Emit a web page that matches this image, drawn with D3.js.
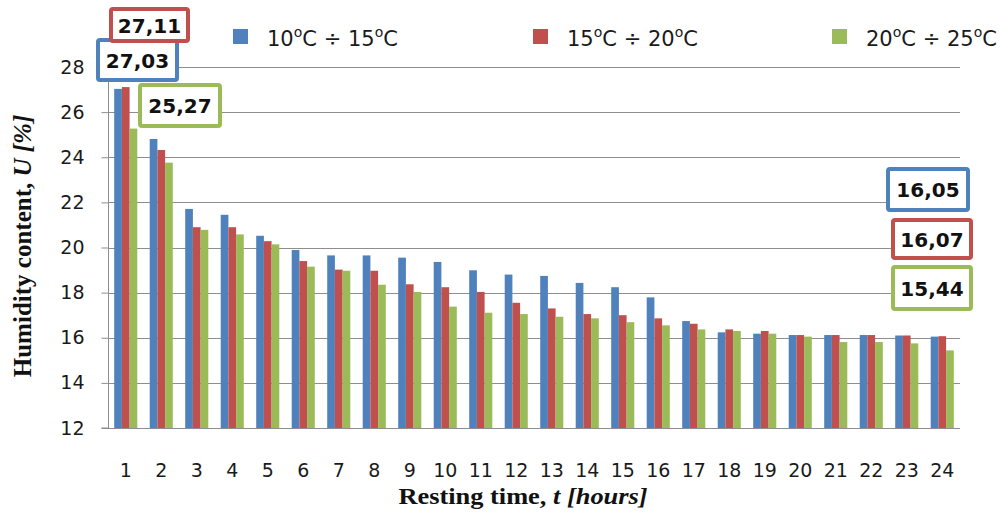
<!DOCTYPE html>
<html>
<head>
<meta charset="utf-8">
<script src="https://cdn.jsdelivr.net/npm/d3@7"></script>
<style>
  html, body { margin: 0; padding: 0; background: #fff; }
  svg { display: block; }
</style>
</head>
<body>
<svg id="chart" width="1003" height="513"></svg>
<script>
const hours = ["1","2","3","4","5","6","7","8","9","10","11","12","13","14","15","16","17","18","19","20","21","22","23","24"];
const seriesNames = ["10\u00B0C \u00F7 15\u00B0C", "15\u00B0C \u00F7 20\u00B0C", "20\u00B0C \u00F7 25\u00B0C"];
const blueValues  = [27.03, 24.81, 21.71, 21.45, 20.52, 19.89, 19.65, 19.65, 19.55, 19.36, 18.99, 18.80, 18.74, 18.43, 18.24, 17.79, 16.74, 16.24, 16.18, 16.12, 16.12, 16.12, 16.10, 16.05];
const redValues   = [27.11, 24.32, 20.90, 20.90, 20.28, 19.40, 19.02, 18.97, 18.37, 18.24, 18.03, 17.55, 17.30, 17.05, 17.00, 16.86, 16.62, 16.37, 16.30, 16.12, 16.12, 16.12, 16.10, 16.07];
const greenValues = [25.27, 23.76, 20.78, 20.58, 20.14, 19.15, 18.97, 18.35, 18.03, 17.38, 17.11, 17.05, 16.93, 16.86, 16.69, 16.55, 16.37, 16.30, 16.18, 16.05, 15.81, 15.81, 15.75, 15.44];
const yTicks = [12, 14, 16, 18, 20, 22, 24, 26, 28];
const calloutTexts = ["27,03", "27,11", "25,27", "16,05", "16,07", "15,44"];

const colors = ["#4F81BD", "#C0504D", "#9BBB59"];
const series = [blueValues, redValues, greenValues];

const svg = d3.select("#chart");
const plotLeft = 108, plotRight = 960, plotTop = 67, plotBottom = 428;

const x = d3.scaleBand().domain(hours).range([plotLeft, plotRight]).paddingInner(0.35).paddingOuter(0.175);
const xs = d3.scaleBand().domain([0,1,2]).range([0, x.bandwidth()]);
const y = d3.scaleLinear().domain([12, 28]).range([plotBottom, plotTop]);
const xc = h => x(h) + x.bandwidth() / 2;

const gridColor = "#8e8e8e";

// gridlines
svg.append("g").selectAll("line").data(yTicks.filter(t => t > 12)).join("line")
  .attr("x1", plotLeft).attr("x2", plotRight)
  .attr("y1", d => Math.round(y(d)) + 0.5).attr("y2", d => Math.round(y(d)) + 0.5)
  .attr("stroke", gridColor).attr("stroke-width", 1);

// bars
const gBars = svg.append("g");
series.forEach((vals, si) => {
  gBars.append("g").selectAll("rect").data(vals).join("rect")
    .attr("x", (d, i) => x(hours[i]) + xs(si))
    .attr("width", xs.bandwidth())
    .attr("y", d => y(d))
    .attr("height", d => y(12) - y(d))
    .attr("fill", colors[si]);
});

// y axis
const yAxis = d3.axisLeft(y).tickValues(yTicks).tickSize(7).tickFormat(d3.format("d"));
const gy = svg.append("g").attr("transform", `translate(${plotLeft + 0.5},0)`).call(yAxis);
gy.select(".domain").attr("stroke", gridColor).attr("d", `M-7,${y(28)}H0V${plotBottom}H-7`);
gy.selectAll(".tick line").attr("stroke", gridColor);
gy.selectAll(".tick text").attr("x", -24).attr("font-family", "DejaVu Sans").attr("font-size", 19).attr("fill", "#1a1a1a");

// x axis
const xAxis = d3.axisBottom(x).tickSize(0).tickPadding(0);
const gx = svg.append("g").attr("transform", `translate(0,${plotBottom + 0.5})`).call(xAxis);
gx.select(".domain").attr("stroke", gridColor).attr("d", `M${plotLeft},0H${plotRight}`);
gx.selectAll(".tick text").attr("y", 0).attr("dy", 0).attr("transform", "translate(0,48)")
  .attr("font-family", "DejaVu Sans").attr("font-size", 19).attr("fill", "#1a1a1a");

// axis titles
const yTitle = svg.append("text")
  .attr("transform", "translate(31,246) rotate(-90)")
  .attr("text-anchor", "middle")
  .attr("font-family", "Liberation Serif, Times New Roman, serif")
  .attr("font-weight", "bold").attr("font-size", 25).attr("fill", "#111");
yTitle.append("tspan").text("Humidity content, ");
yTitle.append("tspan").attr("font-style", "italic").text("U [%]");

const xTitle = svg.append("text")
  .attr("transform", "translate(523,504) scale(1.1,1)")
  .attr("text-anchor", "middle")
  .attr("font-family", "Liberation Serif, Times New Roman, serif")
  .attr("font-weight", "bold").attr("font-size", 24).attr("fill", "#111");
xTitle.append("tspan").text("Resting time, ");
xTitle.append("tspan").attr("font-style", "italic").text("t [hours]");

// legend
const legendX = [233, 533, 832];
const legendTemps = [["10","15"],["15","20"],["20","25"]];
legendTemps.forEach((tp, i) => {
  svg.append("rect").attr("x", legendX[i]).attr("y", 29).attr("width", 15).attr("height", 15).attr("fill", colors[i]);
  const t = svg.append("text").attr("x", legendX[i] + 34).attr("y", 46)
    .attr("font-family", "DejaVu Sans").attr("font-size", 21).attr("fill", "#1a1a1a")
    .attr("aria-label", seriesNames[i]);
  t.append("tspan").text(tp[0]);
  t.append("tspan").attr("font-size", 14).attr("dy", -9).text("o");
  t.append("tspan").attr("dy", 9).text("C \u00F7 " + tp[1]);
  t.append("tspan").attr("font-size", 14).attr("dy", -9).text("o");
  t.append("tspan").attr("dy", 9).text("C");
});

// callout boxes (data labels for first and last hour)
const callouts = [
  { s: 0, i: 0,  dx: 11.75,  cy: 60,    w: 79, h: 40 },
  { s: 2, i: 1,  dx: 18.75,  cy: 105.5, w: 80, h: 41 },
  { s: 1, i: 0,  dx: 23.75,  cy: 25,    w: 77, h: 32 },
  { s: 0, i: 23, dx: -14.25, cy: 189.5, w: 80, h: 41 },
  { s: 1, i: 23, dx: -10.25, cy: 239,   w: 78, h: 38 },
  { s: 2, i: 23, dx: -10.25, cy: 288,   w: 78, h: 42 }
];
callouts.forEach((c, k) => {
  const cx = xc(hours[c.i]) + c.dx;
  const g = svg.append("g");
  g.append("rect").attr("x", cx - c.w/2).attr("y", c.cy - c.h/2).attr("width", c.w).attr("height", c.h)
    .attr("rx", 2).attr("fill", "#fff").attr("stroke", colors[c.s]).attr("stroke-width", 4);
  const txt = [calloutTexts[0], calloutTexts[2], calloutTexts[1], calloutTexts[3], calloutTexts[4], calloutTexts[5]][k];
  g.append("text").attr("x", cx).attr("y", c.cy + 7.5).attr("text-anchor", "middle")
    .attr("font-family", "DejaVu Sans").attr("font-weight", "bold").attr("font-size", 20).attr("fill", "#111")
    .text(txt);
});
</script>
</body>
</html>
